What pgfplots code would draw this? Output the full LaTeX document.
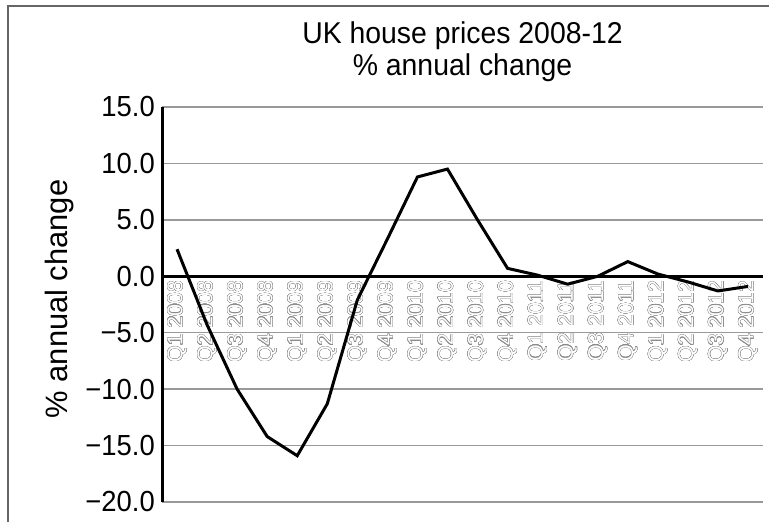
\documentclass[border=0pt]{standalone}
\usepackage{pgfplots}
\pgfplotsset{compat=1.18}
\usepackage{fontspec}
\setmainfont{Liberation Sans}
\usepackage{contour}
\contourlength{0.3pt}
\contournumber{20}

% hollow grey quarter labels
\newcommand\ql[1]{\contour{black!45}{\textcolor{white}{#1}}}

\begin{document}
\begin{tikzpicture}
\useasboundingbox (0,0) rectangle (769bp,522bp);
% outer frame (only top and left show in the crop)
\draw[black!60, line width=2bp] (8bp,-20bp) -- (8bp,516bp) -- (790bp,516bp);

\begin{axis}[
    at={(162bp,20bp)}, anchor=south west,
    scale only axis,
    width=601bp, height=395bp,
    xmin=-0.5, xmax=19.5,
    ymin=-20, ymax=15,
    enlargelimits=false,
    axis x line=middle,
    axis y line=left,
    hide obscured x ticks=false,
    hide obscured y ticks=false,
    x axis line style={-, line width=3bp, black},
    y axis line style={-, line width=3bp, black},
    tick style={draw=none},
    major tick length=0pt,
    ymajorgrids,
    grid style={black!40, line width=1.3bp},
    ytick={-20,-15,-10,-5,0,5,10,15},
    yticklabels={−20.0,−15.0,−10.0,−5.0,0.0,5.0,10.0,15.0},
    yticklabel style={font=\fontsize{27.5}{27.5}\selectfont, anchor=east, inner sep=0pt, xshift=-7bp, yscale=1.06},
    xtick={0,...,19},
    xticklabels={\ql{Q1 2008},\ql{Q2 2008},\ql{Q3 2008},\ql{Q4 2008},
                 \ql{Q1 2009},\ql{Q2 2009},\ql{Q3 2009},\ql{Q4 2009},
                 \ql{Q1 2010},\ql{Q2 2010},\ql{Q3 2010},\ql{Q4 2010},
                 \ql{Q1 2011},\ql{Q2 2011},\ql{Q3 2011},\ql{Q4 2011},
                 \ql{Q1 2012},\ql{Q2 2012},\ql{Q3 2012},\ql{Q4 2012}},
    xticklabel style={font=\fontsize{21.5}{21.5}\selectfont, rotate=90, anchor=east, inner xsep=4bp, inner ysep=0pt},
    title={UK house prices 2008-12\\\% annual change},
    title style={font=\fontsize{28.5}{30}\selectfont, align=center, at={(0.5,1)}, anchor=south, inner sep=0pt, yshift=19bp, yscale=1.06},
]
\addplot[black, line width=3bp, mark=none] coordinates {
    (0,2.4) (1,-4.3) (2,-10.0) (3,-14.2) (4,-15.9) (5,-11.3)
    (6,-2.1) (7,3.3) (8,8.8) (9,9.5) (10,5.0) (11,0.7)
    (12,0.1) (13,-0.7) (14,0.0) (15,1.3) (16,0.2) (17,-0.5)
    (18,-1.3) (19,-0.9)
};
\end{axis}

\node[rotate=90, anchor=base, font=\fontsize{31}{31}\selectfont] at (67bp,223bp) {\% annual change};
\end{tikzpicture}
\end{document}
